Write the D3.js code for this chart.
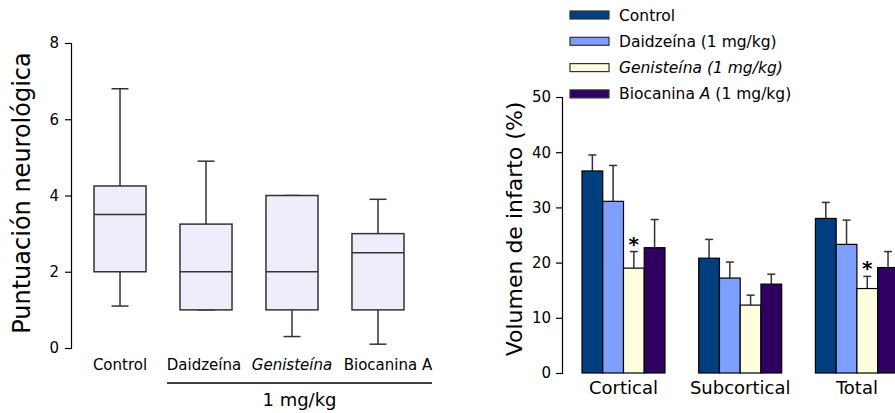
<!DOCTYPE html>
<html>
<head>
<meta charset="utf-8">
<script src="https://cdn.jsdelivr.net/npm/d3@7"></script>
<style>
  body { margin: 0; background: #fff; }
  svg { display: block; }
  text { font-family: "Comic Sans MS", "DejaVu Sans", sans-serif; fill: #000; }
</style>
</head>
<body>
<svg id="chart" width="895" height="413"></svg>
<script>
// ---- Left panel data (box plots) ----
const boxCategories = ["Control", "Daidzeína", "Genisteína", "Biocanina A"];
const boxMin    = [1.1, 1.0, 0.3, 0.1];
const boxQ1     = [2.0, 1.0, 1.0, 1.0];
const boxMedian = [3.5, 2.0, 2.0, 2.5];
const boxQ3     = [4.25, 3.25, 4.0, 3.0];
const boxMax    = [6.8, 4.9, 4.0, 3.9];
const boxTicks  = [0, 2, 4, 6, 8];

// ---- Right panel data (grouped bars) ----
const regions = ["Cortical", "Subcortical", "Total"];
const treatments = ["Control", "Daidzeína (1 mg/kg)", "Genisteína (1 mg/kg)", "Biocanina A (1 mg/kg)"];
const treatmentColors = ["#003f7f", "#7f9fff", "#ffffdf", "#2f005f"];
const valControl   = [36.6, 20.8, 28.0];
const valDaidzeina = [31.1, 17.2, 23.3];
const valGenisteina= [19.0, 12.3, 15.3];
const valBiocanina = [22.7, 16.1, 19.1];
const errControl   = [2.9, 3.4, 2.9];
const errDaidzeina = [6.5, 2.9, 4.4];
const errGenisteina= [3.0, 1.8, 2.2];
const errBiocanina = [5.1, 1.8, 2.9];
const significant  = [[false, false, true, false], [false, false, false, false], [false, false, true, false]];
const barTicks = [0, 10, 20, 30, 40, 50];

const svg = d3.select("#chart");

// ================= LEFT PANEL =================
const yL = d3.scaleLinear().domain([0, 8]).range([348, 43]);
const xL = d3.scaleBand().domain(boxCategories).range([94, 404]).paddingInner(0.395).paddingOuter(0);

const left = svg.append("g");
const yAxisL = left.append("g").attr("transform", "translate(71,0)")
  .call(d3.axisLeft(yL).tickValues(boxTicks).tickSize(6).tickPadding(6).tickFormat(d3.format("d")));
yAxisL.select(".domain").attr("stroke", "#000").attr("stroke-width", 1.2);
yAxisL.selectAll(".tick line").attr("stroke", "#000").attr("stroke-width", 1.2);
yAxisL.selectAll(".tick text").style("font-size", "15px").style("font-family", "'Comic Sans MS','DejaVu Sans',sans-serif");

const boxes = boxCategories.map((c, i) => ({c, min: boxMin[i], q1: boxQ1[i], med: boxMedian[i], q3: boxQ3[i], max: boxMax[i]}));
const capW = 17;
const bg = left.selectAll("g.box").data(boxes).join("g").attr("class", "box");
bg.each(function(d) {
  const g = d3.select(this);
  const x0 = xL(d.c), w = xL.bandwidth(), cx = x0 + w / 2;
  g.append("line").attr("x1", cx).attr("x2", cx).attr("y1", yL(d.q3)).attr("y2", yL(d.max)).attr("stroke", "#333").attr("stroke-width", 1.5);
  g.append("line").attr("x1", cx).attr("x2", cx).attr("y1", yL(d.q1)).attr("y2", yL(d.min)).attr("stroke", "#333").attr("stroke-width", 1.5);
  g.append("line").attr("x1", cx - capW / 2).attr("x2", cx + capW / 2).attr("y1", yL(d.max)).attr("y2", yL(d.max)).attr("stroke", "#333").attr("stroke-width", 1.5);
  g.append("line").attr("x1", cx - capW / 2).attr("x2", cx + capW / 2).attr("y1", yL(d.min)).attr("y2", yL(d.min)).attr("stroke", "#333").attr("stroke-width", 1.5);
  g.append("rect").attr("x", x0).attr("width", w).attr("y", yL(d.q3)).attr("height", yL(d.q1) - yL(d.q3))
    .attr("fill", "#eeeefa").attr("stroke", "#333").attr("stroke-width", 1.5);
  g.append("line").attr("x1", x0).attr("x2", x0 + w).attr("y1", yL(d.med)).attr("y2", yL(d.med)).attr("stroke", "#333").attr("stroke-width", 1.5);
});

left.selectAll("text.cat").data(boxCategories).join("text").attr("class", "cat")
  .attr("x", d => xL(d) + xL.bandwidth() / 2).attr("y", 370)
  .attr("dx", (d, i) => i === boxCategories.length - 1 ? 10 : (i === 1 ? -2 : 0))
  .attr("text-anchor", "middle").style("font-size", "15px")
  .style("font-style", d => d === "Genisteína" ? "italic" : "normal")
  .text(d => d);

left.append("line").attr("x1", 167).attr("x2", 432).attr("y1", 383).attr("y2", 383).attr("stroke", "#000").attr("stroke-width", 1.5);
left.append("text").attr("x", (167 + 432) / 2).attr("y", 406).attr("text-anchor", "middle").style("font-size", "18px").text("1 mg/kg");

left.append("text").attr("transform", "translate(30,193) rotate(-90)").attr("text-anchor", "middle")
  .style("font-size", "24px").text("Puntuación neurológica");

// ================= RIGHT PANEL =================
const yR = d3.scaleLinear().domain([0, 50]).range([373, 97]);
const x0R = d3.scaleBand().domain(regions).range([582, 898.4]).paddingInner(0.289).paddingOuter(0);
const x1R = d3.scaleBand().domain(treatments).range([0, x0R.bandwidth()]).padding(0);

const right = svg.append("g");
const yAxisR = right.append("g").attr("transform", "translate(562,0)")
  .call(d3.axisLeft(yR).tickValues(barTicks).tickSize(6).tickPadding(5).tickFormat(d3.format("d")));
yAxisR.select(".domain").attr("stroke", "#000").attr("stroke-width", 1.2);
yAxisR.selectAll(".tick line").attr("stroke", "#000").attr("stroke-width", 1.2);
yAxisR.selectAll(".tick text").style("font-size", "15px").style("font-family", "'Comic Sans MS','DejaVu Sans',sans-serif");

const vals = [valControl, valDaidzeina, valGenisteina, valBiocanina];
const errs = [errControl, errDaidzeina, errGenisteina, errBiocanina];
const barData = [];
regions.forEach((r, ri) => treatments.forEach((t, ti) => {
  barData.push({r, t, ti, v: vals[ti][ri], e: errs[ti][ri], sig: significant[ri][ti]});
}));

const bars = right.selectAll("g.bar").data(barData).join("g").attr("class", "bar")
  .attr("transform", d => `translate(${x0R(d.r) + x1R(d.t)},0)`);
const bw = x1R.bandwidth();
bars.append("line").attr("x1", bw / 2).attr("x2", bw / 2).attr("y1", d => yR(d.v)).attr("y2", d => yR(d.v + d.e))
  .attr("stroke", "#333").attr("stroke-width", 1.5);
bars.append("line").attr("x1", bw / 2 - 4).attr("x2", bw / 2 + 4).attr("y1", d => yR(d.v + d.e)).attr("y2", d => yR(d.v + d.e))
  .attr("stroke", "#333").attr("stroke-width", 1.5);
bars.append("rect").attr("x", 0).attr("width", bw).attr("y", d => yR(d.v)).attr("height", d => yR(0) - yR(d.v))
  .attr("fill", d => treatmentColors[d.ti]).attr("stroke", "#000").attr("stroke-width", 1.2);
bars.filter(d => d.sig).append("text").attr("x", bw / 2).attr("y", d => yR(d.v + d.e) - 1)
  .attr("text-anchor", "middle").style("font-size", "20px").style("font-weight", "bold").text("*");

right.selectAll("text.reg").data(regions).join("text").attr("class", "reg")
  .attr("x", d => x0R(d) + x0R.bandwidth() / 2).attr("y", 394).attr("text-anchor", "middle")
  .style("font-size", "18px").text(d => d);

right.append("text").attr("transform", "translate(522,229) rotate(-90)").attr("text-anchor", "middle")
  .style("font-size", "22px").text("Volumen de infarto (%)");

const leg = right.selectAll("g.leg").data(treatments).join("g").attr("class", "leg")
  .attr("transform", (d, i) => `translate(570,${15 + i * 26.3})`);
leg.append("rect").attr("x", 0).attr("y", -4).attr("width", 39).attr("height", 8)
  .attr("fill", (d, i) => treatmentColors[i]).attr("stroke", "#333").attr("stroke-width", 1.2);
leg.append("text").attr("x", 49).attr("y", 5.5).style("font-size", "15.5px")
  .each(function(d) {
    const t = d3.select(this);
    if (d.startsWith("Genisteína")) {
      t.append("tspan").style("font-style", "italic").text(d);
    } else if (d.startsWith("Biocanina A")) {
      t.append("tspan").text("Biocanina ");
      t.append("tspan").style("font-style", "italic").text("A");
      t.append("tspan").text(d.slice("Biocanina A".length));
    } else {
      t.text(d);
    }
  });
</script>
</body>
</html>
